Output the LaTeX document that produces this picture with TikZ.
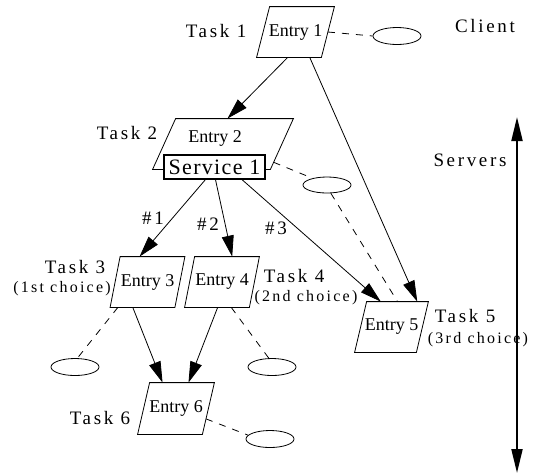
\documentclass[tikz,border=0pt]{standalone}
\usepackage{fontspec}
\setmainfont{Liberation Serif}
\newfontfamily\spacedfont[LetterSpace=14]{Liberation Serif}
\newfontfamily\servfont[LetterSpace=6]{Liberation Serif}
\usepackage{tikz}
\usetikzlibrary{positioning,calc,shapes.geometric,arrows.meta}
\newcommand\entryfont{\fontsize{18}{20}\selectfont}
\newcommand\labelfont{\spacedfont\fontsize{19}{21}\selectfont}
\newcommand\choicefont{\spacedfont\fontsize{16}{18}\selectfont}
% khung hinh binh hanh quanh mot task: #1 ten nut, #2 do nghieng
\newcommand\taskshape[2]{%
    \path (#1.south west) ++(-#2/2,0) coordinate (#1-bl)
          (#1.south east) ++(-#2/2,0) coordinate (#1-br)
          (#1.north east) ++(#2/2,0) coordinate (#1-tr)
          (#1.north west) ++(#2/2,0) coordinate (#1-tl);
    \draw (#1-bl) -- (#1-br) -- (#1-tr) -- (#1-tl) -- cycle;}
\tikzset{
    taskbox/.style={rectangle, minimum width=64pt, minimum height=50pt,
        inner sep=0pt, font=\entryfont},
    servbox/.style={rectangle, draw, fill=white, line width=1.6pt, minimum width=101pt,
        minimum height=24pt, inner sep=0pt, font=\servfont\fontsize{22}{24}\selectfont},
    slot/.style={ellipse, draw, minimum width=48pt, minimum height=17pt, inner sep=0pt}
}

\begin{document}
\begin{tikzpicture}[
        x=1pt, y=-1pt, line width=0.8pt,
        % Style cho mui ten goi
        call/.style={-{Triangle[length=21pt, width=12pt]}},
        % Style cho duong chuyen tiep (net dut)
        fwd/.style={dash pattern=on 7pt off 7pt},
        % Style cho nhan
        lbl/.style={inner sep=0pt, font=\labelfont},
        choice/.style={inner sep=0pt, font=\choicefont}
    ]
        \useasboundingbox (0,0) rectangle (535,475);

        % --- CAC TASK ---
        \node[taskbox] (t1) at (295.5,32) {Entry 1};
        \node[taskbox, minimum width=117pt] (t2) at (223,144) {};
        \node[taskbox] (t3) at (147.5,282) {Entry 3};
        \node[taskbox] (t4) at (222,282) {Entry 4};
        \node[taskbox, minimum width=61pt] (t5) at (391.5,327) {Entry 5};
        \node[taskbox, minimum height=51pt] (t6) at (176,408.5) {Entry 6};
        \taskshape{t1}{13}
        \taskshape{t2}{23}
        \taskshape{t3}{10}
        \taskshape{t4}{10}
        \taskshape{t5}{12}
        \taskshape{t6}{12}
        \node[inner sep=0pt, font=\entryfont] (en2) at (215,138) {Entry 2};
        \node[servbox] (s1) at (214.5,167) {Service 1};

        % --- CAC ELLIPSE ---
        \node[slot] (cl) at (397,36) {};
        \node[slot, minimum height=16pt] (e2) at (327,185) {};
        \node[slot] (e3) at (75,367) {};
        \node[slot] (e4) at (272,367) {};
        \node[slot] (e6) at (270,439) {};

        % --- NHAN ---
        \node[lbl] (l1) at (216,31) {Task 1};
        \node[lbl] (lc) at (485,26) {Client};
        \node[lbl] (l2) at (127,133) {Task 2};
        \node[lbl] (ls) at (470,160) {Servers};
        \node[lbl] (l3) at (75,267) {Task 3};
        \node[choice] (c3) at (62,289) {(1st choice)};
        \node[lbl] (l4) at (294,276) {Task 4};
        \node[choice] (c4) at (306,298) {(2nd choice)};
        \node[lbl] (l5) at (465,316) {Task 5};
        \node[choice] (c5) at (478,340) {(3rd choice)};
        \node[lbl] (l6) at (100,418) {Task 6};
        \node[lbl] (n1) at (153,218) {\#1};
        \node[lbl] (n2) at (208,224) {\#2};
        \node[lbl] (n3) at (276,228) {\#3};

        % --- MUI TEN GOI ---
        \draw[call] ($(t1-bl)!0.48!(t1-br)$) -- ($(t2-tl)!0.44!(t2-tr)$);
        \draw[call] ($(t1-bl)!0.82!(t1-br)$) -- ($(t5-tl)!0.82!(t5-tr)$);
        \draw[call] ($(s1.south west)!0.41!(s1.south east)$) -- ($(t3-tl)!0.3!(t3-tr)$);
        \draw[call] ($(s1.south west)!0.51!(s1.south east)$) -- ($(t4-tl)!0.58!(t4-tr)$);
        \draw[call] ($(s1.south west)!0.77!(s1.south east)$) -- ($(t5-tl)!0.23!(t5-tr)$);
        \draw[call] ($(t3-bl)!0.35!(t3-br)$) -- ($(t6-tl)!0.2!(t6-tr)$);
        \draw[call] ($(t4-bl)!0.51!(t4-br)$) -- ($(t6-tl)!0.6!(t6-tr)$);

        % --- DUONG NET DUT ---
        \draw[fwd] ($(t1-tr)!0.5!(t1-br)$) -- (cl.west);
        \draw[fwd] ($(t2-tr)!0.86!(t2-br)$) -- (e2.155);
        \draw[fwd] (e2.-65) -- ($(t5-tl)!0.5!(t5-tr)$);
        \draw[fwd] ($(t3-bl)!0.12!(t3-br)$) -- (e3.75);
        \draw[fwd] ($(t4-bl)!0.72!(t4-br)$) -- (e4.110);
        \draw[fwd] ($(t6-tr)!0.7!(t6-br)$) -- (e6.170);

        % --- MUI TEN SERVERS ---
        \coordinate (stop) at (517,117);
        \coordinate (sbot) at (517,473);
        \draw[line width=2pt, {Triangle[length=24pt, width=11pt]}-{Triangle[length=24pt, width=11pt]}]
            (stop) -- (sbot);

    \end{tikzpicture}
\end{document}
